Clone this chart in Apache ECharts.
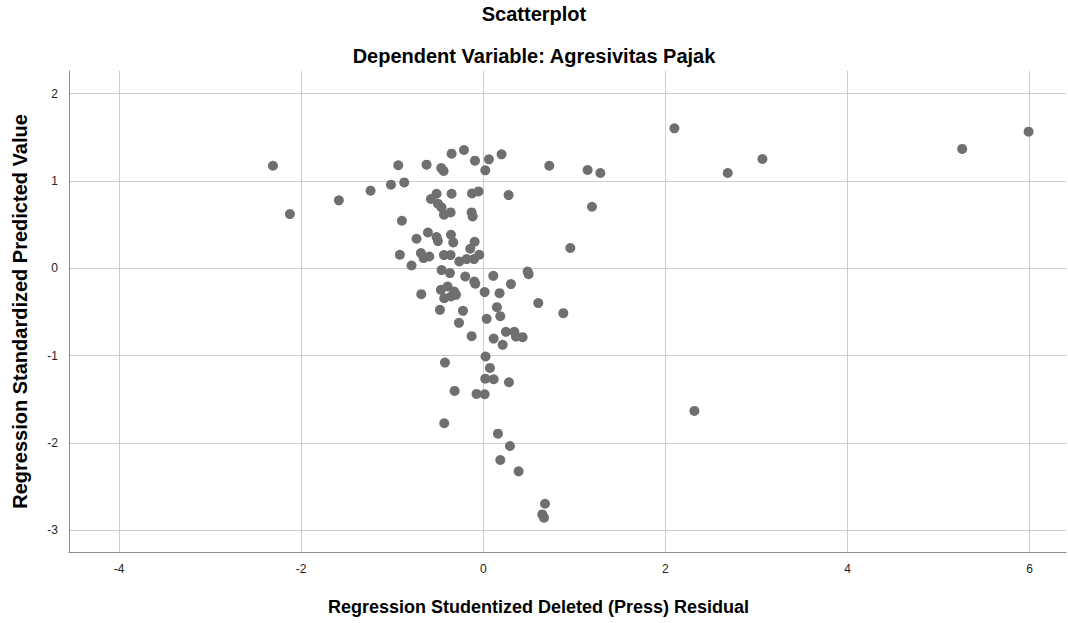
<!DOCTYPE html>
<html>
<head>
<meta charset="utf-8">
<title>Scatterplot</title>
<script src="https://cdn.jsdelivr.net/npm/echarts@6/dist/echarts.min.js"></script>
<style>
  html, body { margin: 0; padding: 0; background: #fff; }
  #main { width: 1068px; height: 623px; }
</style>
</head>
<body>
<div id="main"></div>
<script>
// studentized deleted residual (x) per case
var residX = [
  -2.31, -0.934, -0.623, -1.014, -0.868, -1.238, -1.586, -2.124, -0.894, -0.733,
  -0.608, -0.916, -0.685, -0.656, -0.593, -0.788, -0.348, -0.212, -0.091, 0.062,
  0.201, 0.022, -0.462, -0.436, -0.513, -0.575, -0.348, -0.124, -0.052, 0.278,
  -0.498, -0.458, -0.432, -0.359, -0.128, -0.117, -0.513, -0.498, -0.355, -0.33,
  -0.095, -0.143, -0.432, -0.359, -0.264, -0.183, -0.102, -0.044, -0.458, -0.366,
  -0.198, -0.099, -0.088, 0.11, 0.304, 0.487, 0.498, 0.956, -0.681, -0.465,
  -0.392, -0.319, -0.429, -0.355, -0.3, 0.015, 0.179, 0.604, 0.879, -0.476,
  -0.223, 0.15, 0.187, 0.037, -0.267, -0.128, 0.114, 0.213, 0.249, 0.341,
  0.432, 0.359, 0.025, -0.421, 0.073, 0.022, 0.114, 0.282, -0.315, -0.074,
  0.015, -0.429, 0.161, 0.293, 0.187, 0.388, 0.678, 0.648, 0.667, 2.099,
  0.725, 1.146, 1.286, 1.194, 2.685, 3.066, 5.26, 5.989, 2.319
];
// standardized predicted value (y) per case
var predY = [
  1.175, 1.18, 1.187, 0.958, 0.984, 0.889, 0.778, 0.621, 0.545, 0.338,
  0.41, 0.155, 0.174, 0.117, 0.135, 0.032, 1.313, 1.355, 1.233, 1.248,
  1.305, 1.122, 1.149, 1.115, 0.854, 0.794, 0.854, 0.858, 0.881, 0.839,
  0.74, 0.697, 0.614, 0.64, 0.64, 0.594, 0.358, 0.312, 0.384, 0.296,
  0.304, 0.224, 0.151, 0.151, 0.078, 0.105, 0.105, 0.155, -0.021, -0.055,
  -0.094, -0.151, -0.177, -0.086, -0.181, -0.037, -0.067, 0.232, -0.296, -0.247,
  -0.209, -0.266, -0.342, -0.323, -0.304, -0.273, -0.285, -0.399, -0.514, -0.476,
  -0.487, -0.445, -0.548, -0.579, -0.625, -0.778, -0.805, -0.877, -0.728, -0.728,
  -0.789, -0.782, -1.011, -1.08, -1.141, -1.264, -1.271, -1.305, -1.405, -1.439,
  -1.443, -1.775, -1.894, -2.036, -2.196, -2.326, -2.697, -2.819, -2.858, 1.603,
  1.175, 1.126, 1.092, 0.705, 1.092, 1.252, 1.367, 1.565, -1.634
];
var titleMain = 'Scatterplot';
var titleSub = 'Dependent Variable: Agresivitas Pajak';
var xName = 'Regression Studentized Deleted (Press) Residual';
var yName = 'Regression Standardized Predicted Value';

var points = [];
for (var i = 0; i < residX.length; i++) {
    points.push([residX[i], predY[i]]);
}

var myChart = echarts.init(document.getElementById('main'), null, { renderer: 'svg' });
var font = 'Liberation Sans, Arial, sans-serif';

var option = {
    backgroundColor: '#fff',
    animation: false,
    title: [{
        text: titleMain,
        left: 'center',
        top: -1,
        textStyle: { fontFamily: font, fontSize: 20, fontWeight: 'bold', color: '#000' }
    }, {
        text: titleSub,
        left: 'center',
        top: 41,
        textStyle: { fontFamily: font, fontSize: 20, fontWeight: 'bold', color: '#000' }
    }],
    grid: {
        left: 69,
        right: 2,
        top: 71,
        bottom: 71,
        outerBoundsMode: 'none'
    },
    xAxis: {
        type: 'value',
        min: -4.55,
        max: 6.4,
        name: xName,
        nameLocation: 'middle',
        nameGap: 46,
        nameTextStyle: {
            fontFamily: font, fontSize: 18, fontWeight: 'bold', color: '#000',
            padding: [0, 58, 0, 0]
        },
        axisLine: { onZero: false, lineStyle: { color: '#8c8c8c', width: 1 } },
        axisTick: { show: false },
        axisLabel: {
            showMinLabel: false,
            showMaxLabel: false,
            margin: 11,
            fontFamily: font,
            fontSize: 12,
            color: '#222'
        },
        splitLine: {
            showMinLine: false,
            showMaxLine: false,
            lineStyle: { color: '#cdcdcd', width: 1 }
        }
    },
    yAxis: {
        type: 'value',
        min: -3.25,
        max: 2.26,
        name: yName,
        nameLocation: 'middle',
        nameGap: 39,
        nameTextStyle: { fontFamily: font, fontSize: 20, fontWeight: 'bold', color: '#000' },
        axisLine: { show: true, onZero: false, lineStyle: { color: '#8c8c8c', width: 1 } },
        axisTick: { show: false },
        axisLabel: {
            showMinLabel: false,
            showMaxLabel: false,
            margin: 11,
            fontFamily: font,
            fontSize: 12,
            color: '#222'
        },
        splitLine: {
            showMinLine: false,
            showMaxLine: false,
            lineStyle: { color: '#cdcdcd', width: 1 }
        }
    },
    series: [{
        type: 'scatter',
        data: points,
        symbol: 'circle',
        symbolSize: 10,
        itemStyle: { color: '#6f6f6f', opacity: 1 }
    }]
};

myChart.setOption(option);
window.addEventListener('resize', function () {
    myChart.resize();
});
</script>
</body>
</html>
